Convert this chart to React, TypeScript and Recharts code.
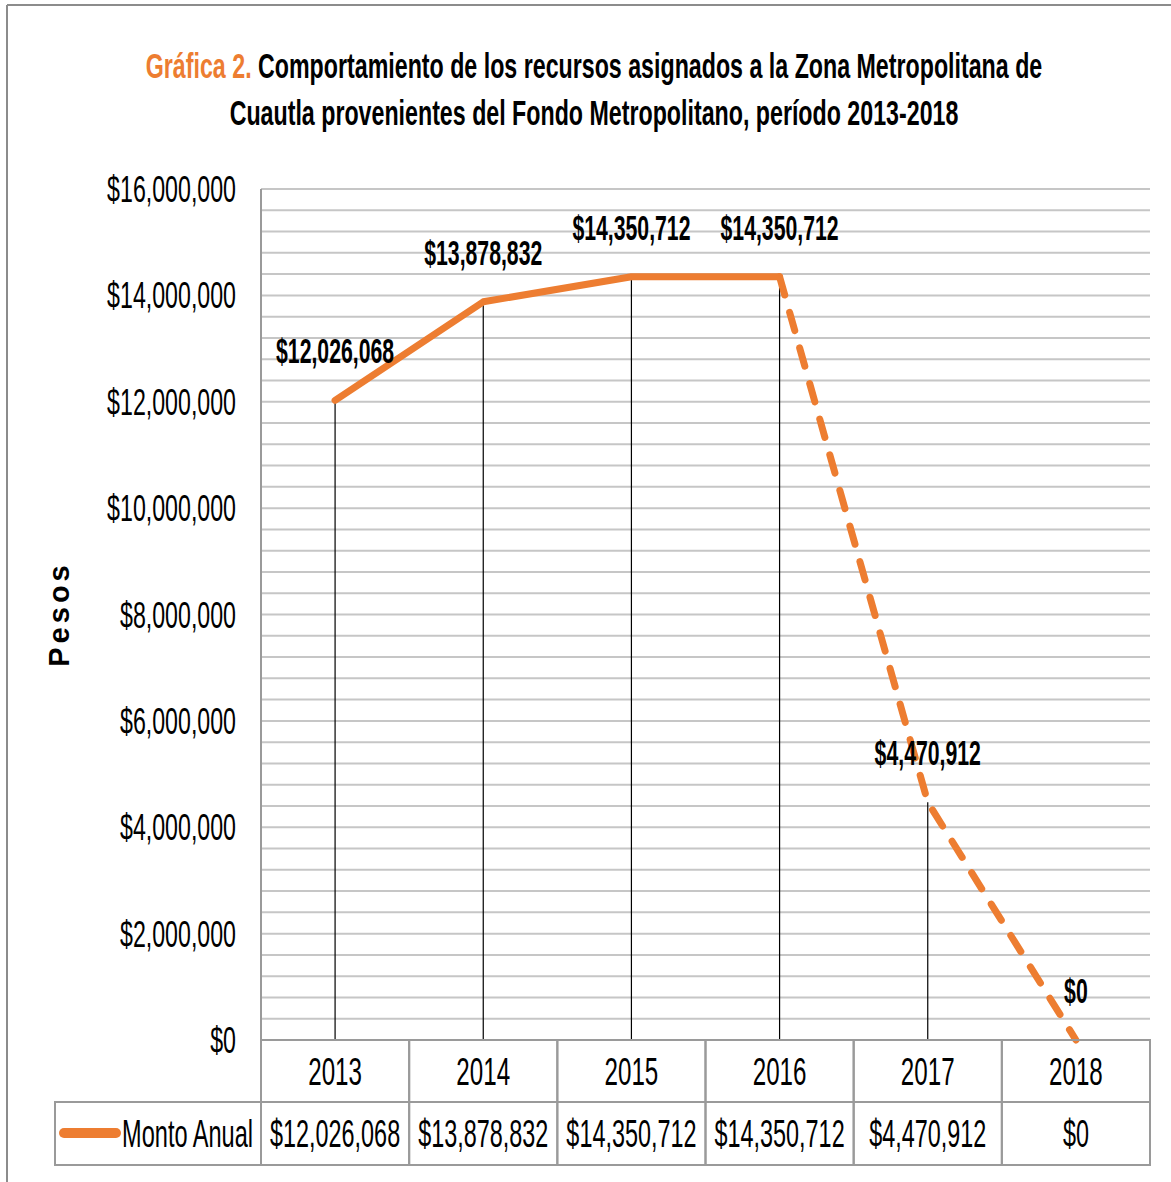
import React from "react"
import { LineChart, Line, XAxis, YAxis, CartesianGrid, ReferenceLine, LabelList } from "recharts"

const years = ["2013", "2014", "2015", "2016", "2017", "2018"]
const montoAnual = [12026068, 13878832, 14350712, 14350712, 4470912, 0]
const yTicks = [0, 2000000, 4000000, 6000000, 8000000, 10000000, 12000000, 14000000, 16000000]
// minor gridlines every $400,000
const gridValues = Array.from({ length: 41 }, (_, i) => i * 400000)

const ORANGE = "#ED7D31"
const FONT = "'Liberation Sans', Arial, sans-serif"
const W = 1171
const H = 1182
const PLOT_LEFT = 261
const PLOT_RIGHT = 1150
const PLOT_TOP = 189
const PLOT_BOTTOM = 1040
const BAND = (PLOT_RIGHT - PLOT_LEFT) / years.length
const ROW = 62

const money = (v: number) => "$" + v.toLocaleString("en-US")

// solid up to 2016, dashed from 2016 on
const data = years.map((year, i) => ({
  year,
  monto: montoAnual[i],
  solid: i <= 3 ? montoAnual[i] : null,
  dashed: i >= 3 ? montoAnual[i] : null,
}))

function YTick({ x, y, payload }: any) {
  return (
    <text
      transform={`translate(${x},${y + 13}) scale(0.644,1)`}
      textAnchor="end"
      fontFamily={FONT}
      fontSize={36}
      fill="#000"
    >
      {money(payload.value)}
    </text>
  )
}

function TableTick({ x, y, payload, index }: any) {
  const left = x - BAND / 2
  const grid = "#9a9a9a"
  return (
    <g>
      <rect x={left} y={y} width={BAND} height={ROW} fill="none" stroke={grid} strokeWidth={2} />
      <rect x={left} y={y + ROW} width={BAND} height={ROW + 1} fill="none" stroke={grid} strokeWidth={2} />
      <text
        transform={`translate(${x},${y + ROW / 2 + 14}) scale(0.62,1)`}
        textAnchor="middle"
        fontFamily={FONT}
        fontSize={39}
        fill="#000"
      >
        {payload.value}
      </text>
      <text
        transform={`translate(${x},${y + ROW + ROW / 2 + 14}) scale(0.6,1)`}
        textAnchor="middle"
        fontFamily={FONT}
        fontSize={39}
        fill="#000"
      >
        {money(montoAnual[index])}
      </text>
      {index === 0 && (
        <g>
          <rect x={55} y={y + ROW} width={left - 55} height={ROW + 1} fill="none" stroke={grid} strokeWidth={2} />
          <line x1={64} y1={y + ROW + 31} x2={116} y2={y + ROW + 31} stroke={ORANGE} strokeWidth={10} strokeLinecap="round" />
          <text
            transform={`translate(${left - 8},${y + ROW + ROW / 2 + 14}) scale(0.604,1)`}
            textAnchor="end"
            fontFamily={FONT}
            fontSize={39}
            fill="#000"
          >
            Monto Anual
          </text>
        </g>
      )}
    </g>
  )
}

function PointLabel({ x, y, value }: any) {
  return (
    <text
      transform={`translate(${x},${y - 37}) scale(0.59,1)`}
      textAnchor="middle"
      fontFamily={FONT}
      fontWeight="bold"
      fontSize={36}
      fill="#000"
    >
      {money(value)}
    </text>
  )
}

export default function App() {
  return (
    <div style={{ position: "absolute", left: 0, top: 0, width: W, height: H, background: "#fff" }}>
      <LineChart
        width={W}
        height={H}
        data={data}
        margin={{ top: PLOT_TOP, right: W - PLOT_RIGHT, bottom: 0, left: 0 }}
      >
        <CartesianGrid vertical={false} horizontalValues={gridValues} stroke="#c6c6c6" strokeWidth={2} />
        <XAxis
          dataKey="year"
          height={H - PLOT_BOTTOM}
          padding={{ left: BAND / 2, right: BAND / 2 }}
          axisLine={false}
          tickLine={false}
          tickSize={0}
          tickMargin={0}
          interval={0}
          tick={<TableTick />}
        />
        <YAxis
          width={PLOT_LEFT}
          domain={[0, 16000000]}
          ticks={yTicks}
          interval={0}
          axisLine={{ stroke: "#9a9a9a", strokeWidth: 2 }}
          tickLine={false}
          tickMargin={0}
          tickSize={25}
          tick={<YTick />}
        />
        {years.map((yr, i) => (
          <ReferenceLine
            key={yr}
            segment={[
              { x: yr, y: 0 },
              { x: yr, y: montoAnual[i] },
            ]}
            stroke="#000"
            strokeWidth={1.2}
          />
        ))}
        <Line
          dataKey="solid"
          stroke={ORANGE}
          strokeWidth={7}
          strokeLinecap="round"
          strokeLinejoin="round"
          dot={false}
          activeDot={false}
          isAnimationActive={false}
        />
        <Line
          dataKey="dashed"
          stroke={ORANGE}
          strokeWidth={7}
          strokeLinecap="round"
          strokeDasharray="19 18"
          dot={false}
          activeDot={false}
          isAnimationActive={false}
        />
        <Line dataKey="monto" stroke="none" dot={false} activeDot={false} isAnimationActive={false}>
          <LabelList dataKey="monto" content={<PointLabel />} />
        </Line>
      </LineChart>
      <svg width={W} height={H} style={{ position: "absolute", left: 0, top: 0, pointerEvents: "none" }}>
        <line x1={7} y1={5} x2={7} y2={H} stroke="#8c8c8c" strokeWidth={2} />
        <line x1={7} y1={5} x2={W} y2={5} stroke="#8c8c8c" strokeWidth={2} />
        <text
          transform="translate(594,78) scale(0.645,1)"
          textAnchor="middle"
          fontFamily={FONT}
          fontWeight="bold"
          fontSize={36}
          fill="#000"
        >
          <tspan fill={ORANGE}>Gráfica 2.</tspan> Comportamiento de los recursos asignados a la Zona Metropolitana de
        </text>
        <text
          transform="translate(594,125) scale(0.645,1)"
          textAnchor="middle"
          fontFamily={FONT}
          fontWeight="bold"
          fontSize={36}
          fill="#000"
        >
          Cuautla provenientes del Fondo Metropolitano, período 2013-2018
        </text>
        <text
          transform="translate(69,614) rotate(-90)"
          textAnchor="middle"
          fontFamily={FONT}
          fontWeight="bold"
          fontSize={29}
          letterSpacing={4}
          fill="#000"
        >
          Pesos
        </text>
      </svg>
    </div>
  )
}
